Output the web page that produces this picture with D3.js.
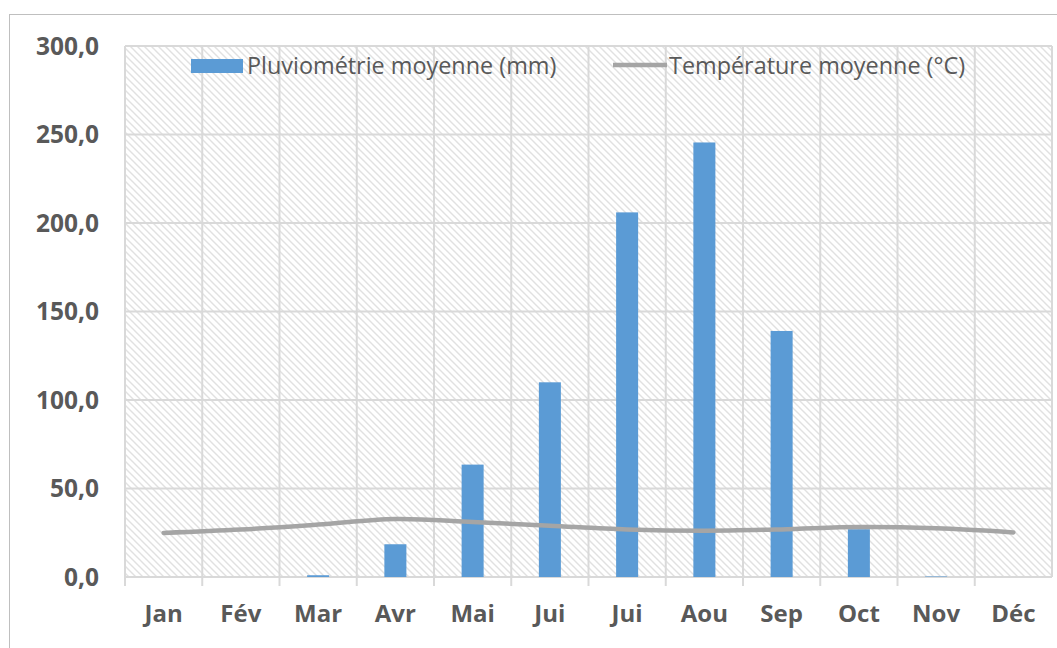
<!DOCTYPE html>
<html>
<head>
<meta charset="utf-8">
<script src="https://cdn.jsdelivr.net/npm/d3@7"></script>
<style>
body{margin:0;background:#fff}
text{font-family:"Open Sans",sans-serif;fill:#595959}
</style>
</head>
<body>
<svg id="chart"></svg>
<script>
// valeurs
var mois = ["Jan","Fév","Mar","Avr","Mai","Jui","Jui","Aou","Sep","Oct","Nov","Déc"]
var pluie = [0, 0, 1.0, 18.5, 63.5, 110, 206, 245.5, 139, 27, 0.3, 0]
var temperature = [24.9, 26.8, 29.6, 32.8, 31.1, 29.0, 26.9, 26.2, 26.9, 28.2, 27.5, 25.2]
var yTicks = [0, 50, 100, 150, 200, 250, 300]
var legende = ["Pluviométrie moyenne (mm)", "Température moyenne (°C)"]

var screen = {width:1057, height:648}
var plot = {left:125, top:46, right:1052, bottom:577}

var svg = d3.select("#chart")
    .attr("width",screen.width)
    .attr("height",screen.height)

// cadre extérieur
svg.append("rect")
    .attr("x",9.5).attr("y",14.5)
    .attr("width",1070).attr("height",660)
    .attr("fill","none").attr("stroke","#bfbfbf")

// motif hachuré du fond
var defs = svg.append("defs")
var pat = defs.append("pattern")
    .attr("id","hatch")
    .attr("patternUnits","userSpaceOnUse")
    .attr("width",7).attr("height",7)
pat.append("rect").attr("width",7).attr("height",7).attr("fill","#fff")
pat.append("path")
    .attr("d","M-1,-1 L8,8 M-1,6 L1,8 M6,-1 L8,1")
    .attr("stroke","#e1e1e1").attr("stroke-width",1.4)

var xscale = d3.scaleBand()
    .domain(d3.range(mois.length))
    .range([plot.left,plot.right])
    .paddingInner(0).paddingOuter(0)

var yscale = d3.scaleLinear()
    .domain([0,300])
    .range([plot.bottom,plot.top])

svg.append("rect")
    .attr("x",plot.left).attr("y",plot.top)
    .attr("width",plot.right-plot.left).attr("height",plot.bottom-plot.top)
    .attr("fill","url(#hatch)")

// grille horizontale
svg.append("g").selectAll("line")
    .data(yTicks)
    .enter().append("line")
    .attr("x1",plot.left).attr("x2",plot.right)
    .attr("y1",function(d){return yscale(d)})
    .attr("y2",function(d){return yscale(d)})
    .attr("stroke","#d9d9d9").attr("stroke-width",2)

// grille verticale (limites des catégories)
var bornes = d3.range(mois.length+1)
svg.append("g").selectAll("line")
    .data(bornes)
    .enter().append("line")
    .attr("x1",function(i){return plot.left+i*xscale.step()})
    .attr("x2",function(i){return plot.left+i*xscale.step()})
    .attr("y1",plot.top)
    .attr("y2",function(i){return i==mois.length ? plot.bottom : plot.bottom+9})
    .attr("stroke","#d9d9d9").attr("stroke-width",2)

// barres
var barW = xscale.bandwidth()*0.285
svg.append("g").selectAll("rect")
    .data(pluie)
    .enter().append("rect")
    .attr("x",function(d,i){return xscale(i)+xscale.bandwidth()/2-barW/2})
    .attr("width",barW)
    .attr("y",function(d){return yscale(d)})
    .attr("height",function(d){return plot.bottom-yscale(d)})
    .attr("fill","#5b9bd5")

// courbe de température
var line = d3.line()
    .x(function(d,i){return xscale(i)+xscale.bandwidth()/2})
    .y(function(d){return yscale(d)})
    .curve(d3.curveCatmullRom.alpha(0.5))
svg.append("path")
    .datum(temperature)
    .attr("d",line)
    .attr("fill","none")
    .attr("stroke","#a5a5a5")
    .attr("stroke-width",4.5)
    .attr("stroke-linecap","round")

// axe Y
svg.append("g").selectAll("text")
    .data(yTicks)
    .enter().append("text")
    .attr("x",99)
    .attr("y",function(d){return yscale(d)})
    .attr("dy","0.36em")
    .attr("text-anchor","end")
    .attr("font-size",24.5)
    .attr("font-weight",700)
    .text(function(d){return d3.format(".1f")(d).replace(".",",")})

// axe X
svg.append("g").selectAll("text")
    .data(mois)
    .enter().append("text")
    .attr("x",function(d,i){return xscale(i)+xscale.bandwidth()/2})
    .attr("y",622)
    .attr("text-anchor","middle")
    .attr("font-size",24)
    .attr("font-weight",700)
    .text(function(d){return d})

// légende
var leg = svg.append("g")
leg.append("rect")
    .attr("x",191).attr("y",59).attr("width",52).attr("height",14)
    .attr("fill","#5b9bd5")
leg.append("text")
    .attr("x",247).attr("y",74)
    .attr("font-size",23.4)
    .text(legende[0])
leg.append("line")
    .attr("x1",613).attr("x2",667).attr("y1",65).attr("y2",65)
    .attr("stroke","#a5a5a5").attr("stroke-width",4.5)
leg.append("text")
    .attr("x",669).attr("y",74)
    .attr("font-size",23.4)
    .text(legende[1])
</script>
</body>
</html>
